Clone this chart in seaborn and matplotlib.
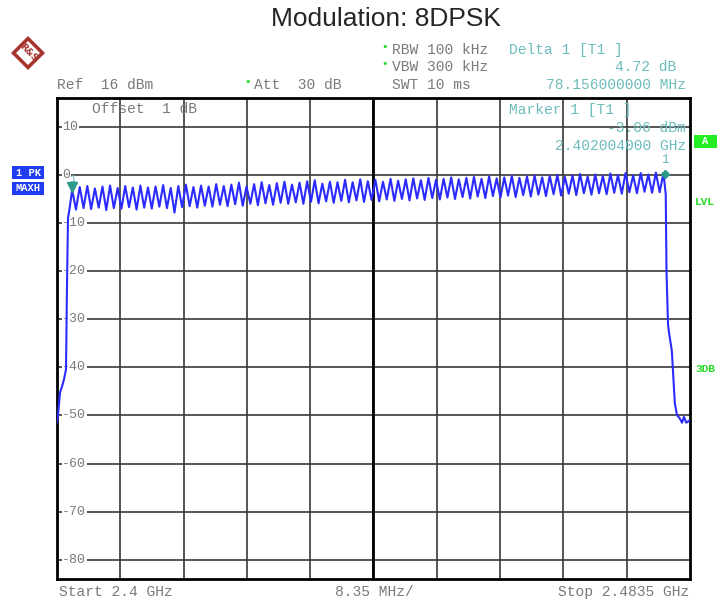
import numpy as np
import pandas as pd
import matplotlib
matplotlib.use("Agg")
import matplotlib.pyplot as plt
from matplotlib.patches import Rectangle, Polygon
import seaborn as sns

# channel peaks / dips (dBm)
channels_mhz = list(range(2402, 2481))
peak_db = [
    -3.1, -2.5, -2.3, -2.8, -2.4, -2.2, -2.7, -2.3, -2.6, -2.2,
    -2.6, -2.4, -2.1, -2.7, -2.3, -2.0, -2.5, -2.2, -2.4, -1.9,
    -2.3, -2.0, -1.6, -2.4, -1.9, -1.5, -2.1, -1.7, -1.4, -2.0,
    -1.6, -1.3, -1.1, -1.8, -1.4, -1.5, -1.0, -1.5, -0.9, -1.3,
    -1.0, -1.4, -0.8, -1.2, -0.9, -0.7, -1.1, -0.6, -1.0, -0.8,
    -0.5, -0.9, -0.6, -0.4, -0.8, -0.3, -0.7, -0.5, -0.2, -0.6,
    -0.3, -0.1, -0.5, -0.2, 0.0, -0.4, -0.1, 0.2, -0.3, 0.1,
    -0.2, 0.3, 0.0, 0.4, -0.1, 0.4, 0.1, 0.5, 0.4,
]
dip_db = [
    -7.2, -6.9, -7.1, -6.8, -7.3, -6.9, -7.0, -6.7, -7.2, -6.8,
    -7.0, -6.6, -6.9, -7.8, -6.7, -6.5, -6.8, -6.4, -6.6, -6.2,
    -6.5, -6.1, -6.4, -6.0, -6.3, -5.9, -6.2, -5.8, -6.0, -5.7,
    -6.0, -5.6, -5.9, -5.5, -5.8, -5.4, -5.7, -5.3, -5.6, -5.2,
    -5.5, -5.1, -5.4, -5.0, -5.3, -4.9, -5.2, -4.8, -5.1, -4.7,
    -5.0, -4.6, -4.9, -4.5, -4.8, -4.4, -4.7, -4.3, -4.6, -4.2,
    -4.5, -4.1, -4.4, -4.0, -4.3, -3.9, -4.2, -3.8, -4.1, -3.8,
    -4.0, -3.7, -3.9, -3.6, -3.8, -3.5, -3.7, -3.6,
]
rise_mhz = [2400.0, 2400.17, 2400.4, 2400.66, 2400.92, 2401.19, 2401.3, 2401.45, 2401.7]
rise_db = [-51.5, -49.3, -45.2, -44.0, -42.5, -40.4, -25.0, -9.0, -6.5]
fall_mhz = [2480.3, 2480.4, 2480.6, 2480.75, 2481.1, 2481.5, 2481.8, 2482.1, 2482.45, 2482.7, 2483.0, 2483.5]
fall_db = [-4.0, -20.0, -31.0, -33.0, -36.5, -47.5, -50.0, -50.5, -51.5, -50.3, -51.5, -51.0]

f_start, f_stop = 2400.0, 2483.5
ref_level = 16
y_lines = [10, 0, -10, -20, -30, -40, -50, -60, -70, -80]

# assemble the trace
freq, level = list(rise_mhz), list(rise_db)
for i, ch in enumerate(channels_mhz):
    freq.append(ch)
    level.append(peak_db[i])
    if i < len(dip_db):
        freq.append(ch + 0.5)
        level.append(dip_db[i])
freq += fall_mhz
level += fall_db
trace = pd.DataFrame({"freq": freq, "level": level})

sns.set_style("white")
mono = "Liberation Mono"
gray = "#7a7a7a"
cyan = "#6cbcbc"
green = "#22dd22"

fig = plt.figure(figsize=(7.2, 6.05), dpi=100)
W, H = 720, 605


def fx(x):
    return x / W


def fy(y):
    return 1 - y / H


ax = fig.add_axes([fx(57), fy(579), 633 / W, 481 / H])
sns.lineplot(data=trace, x="freq", y="level", ax=ax, color="#2b2bff", lw=1.5, sort=False, zorder=4)
ax.set_xlim(f_start, f_stop)
ax.set_ylim(ref_level - 100, ref_level)
step = (f_stop - f_start) / 10
ax.set_xticks([f_start + step * k for k in range(1, 10)])
ax.set_yticks(y_lines)
ax.grid(True, color="#383838", lw=1.2)
ax.axvline(f_start + step * 5, color="black", lw=2)
ax.tick_params(length=0, labelleft=False, labelbottom=False)
ax.set_xlabel("")
ax.set_ylabel("")
for s in ax.spines.values():
    s.set_linewidth(2)
    s.set_color("black")

for v in y_lines:
    ax.text(f_start + 0.7, v, str(v), family=mono, fontsize=9.5, color=gray, ha="left", va="center",
            bbox=dict(facecolor="white", edgecolor="none", pad=0.6), zorder=3)

# markers
mk = "#2a9a8a"
ax.plot([2402.0], [-2.6], marker="v", color=mk, ms=7, zorder=5)
ax.text(2402.0, -0.9, "1", family=mono, fontsize=8, color=cyan, ha="center", va="center")
ax.plot([2480.16], [0.3], marker="D", color=mk, ms=4.5, zorder=5)

# header texts
fig.text(fx(386), fy(19), "Modulation: 8DPSK", family="Liberation Sans", fontsize=19, ha="center", va="center")
fs = 10.5
fig.text(fx(57), fy(85), "Ref  16 dBm", family=mono, fontsize=fs, color=gray, va="center")
fig.text(fx(248), fy(82), "•", color=green, fontsize=8, va="center", ha="center")
fig.text(fx(254), fy(85), "Att  30 dB", family=mono, fontsize=fs, color=gray, va="center")
fig.text(fx(385), fy(47), "•", color=green, fontsize=8, va="center", ha="center")
fig.text(fx(392), fy(50), "RBW 100 kHz", family=mono, fontsize=fs, color=gray, va="center")
fig.text(fx(385), fy(64), "•", color=green, fontsize=8, va="center", ha="center")
fig.text(fx(392), fy(67), "VBW 300 kHz", family=mono, fontsize=fs, color=gray, va="center")
fig.text(fx(392), fy(85), "SWT 10 ms", family=mono, fontsize=fs, color=gray, va="center")
fig.text(fx(509), fy(50), "Delta 1 [T1 ]", family=mono, fontsize=fs, color=cyan, va="center")
fig.text(fx(676), fy(67), "4.72 dB", family=mono, fontsize=fs, color=cyan, va="center", ha="right")
fig.text(fx(686), fy(85), "78.156000000 MHz", family=mono, fontsize=fs, color=cyan, va="center", ha="right")
fig.text(fx(92), fy(109), "Offset  1 dB", family=mono, fontsize=fs, color=gray, va="center")
fig.text(fx(509), fy(110), "Marker 1 [T1 ]", family=mono, fontsize=fs, color=cyan, va="center")
fig.text(fx(686), fy(128), "-3.06 dBm", family=mono, fontsize=fs, color=cyan, va="center", ha="right")
fig.text(fx(686), fy(146), "2.402004000 GHz", family=mono, fontsize=fs, color=cyan, va="center", ha="right")
fig.text(fx(665), fy(160), "1", family=mono, fontsize=9, color=cyan, va="center", ha="center")

# footer
fig.text(fx(59), fy(592), "Start 2.4 GHz", family=mono, fontsize=fs, color=gray, va="center")
fig.text(fx(374), fy(592), "8.35 MHz/", family=mono, fontsize=fs, color=gray, va="center", ha="center")
fig.text(fx(689), fy(592), "Stop 2.4835 GHz", family=mono, fontsize=fs, color=gray, va="center", ha="right")

# side boxes
for (x0, y0, w, h, txt, bg) in [(12, 166, 32, 13, "1 PK", "#1f3cf2"),
                                (12, 182, 32, 13, "MAXH", "#1f3cf2"),
                                (694, 135, 23, 13, "A", "#22ee22")]:
    fig.add_artist(Rectangle((fx(x0), fy(y0 + h)), w / W, h / H, transform=fig.transFigure,
                             facecolor=bg, edgecolor="none"))
    fig.text(fx(x0 + w / 2), fy(y0 + h / 2), txt, family=mono, fontsize=7.5, color="white",
             weight="bold", ha="center", va="center")
fig.text(fx(695), fy(202), "LVL", family=mono, fontsize=8, color=green, weight="bold", va="center")
fig.text(fx(695), fy(369), "3DB", family=mono, fontsize=8, color=green, weight="bold", va="center")

# R&S logo
cx, cy, r = 28, 53, 17
fig.add_artist(Polygon([(fx(cx), fy(cy - r)), (fx(cx + r), fy(cy)), (fx(cx), fy(cy + r)), (fx(cx - r), fy(cy))],
                       closed=True, transform=fig.transFigure, facecolor="#a8332c", edgecolor="none"))
ri = 12
fig.add_artist(Polygon([(fx(cx), fy(cy - ri)), (fx(cx + ri), fy(cy)), (fx(cx), fy(cy + ri)), (fx(cx - ri), fy(cy))],
                       closed=True, transform=fig.transFigure, facecolor="white", edgecolor="none"))
fig.text(fx(cx), fy(cy), "R&S", fontsize=6.5, color="#a8332c", weight="bold", rotation=-45,
         ha="center", va="center")

fig.savefig("out.png", dpi=100)
